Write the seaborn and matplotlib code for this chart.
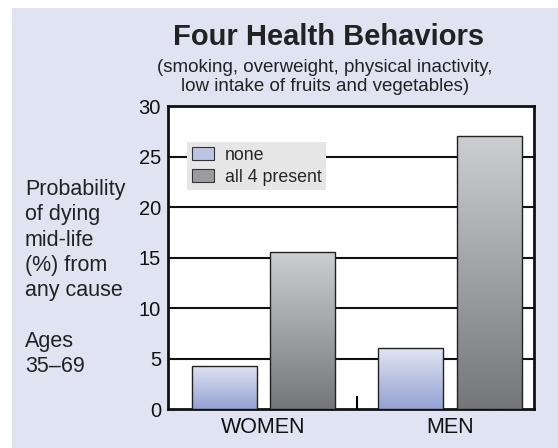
import numpy as np
import pandas as pd
import matplotlib
matplotlib.use("Agg")
import matplotlib.pyplot as plt
from matplotlib.patches import Rectangle, Patch
from matplotlib.colors import LinearSegmentedColormap
import seaborn as sns

sexes = ['WOMEN', 'MEN']
groups = ['none', 'all 4 present']
none_vals = [4.3, 6.0]
all4_vals = [15.5, 27.0]
yticks = [0, 5, 10, 15, 20, 25, 30]

df = pd.DataFrame({
    'sex': sexes * 2,
    'group': [groups[0]] * 2 + [groups[1]] * 2,
    'value': none_vals + all4_vals,
})

sns.set_style('white')
plt.rcParams['font.family'] = ['Liberation Sans', 'DejaVu Sans']

bg = '#dfe3f2'
fig = plt.figure(figsize=(5.58, 4.48), dpi=100)
fig.patch.set_facecolor('white')
fig.patches.append(Rectangle((12 / 558, 0), 1, 440 / 448, transform=fig.transFigure,
                             facecolor=bg, edgecolor='none', zorder=-10))

ax = fig.add_axes([168 / 558, 39 / 448, 366 / 558, 303 / 448])
ax.set_facecolor('white')

# gradients: light at top, dark at bottom
grad_cols = {
    'none': ('#e0e4f2', '#94a1d2'),
    'all 4 present': ('#cdced1', '#75767a'),
}
mid_cols = {'none': '#bcc4e4', 'all 4 present': '#9a9b9e'}

sns.barplot(data=df, x='sex', y='value', hue='group', order=sexes, hue_order=groups,
            palette=mid_cols, width=0.84, gap=0.17, edgecolor='#222222', linewidth=1.0,
            legend=False, ax=ax, zorder=3)

for g, cont in zip(groups, ax.containers):
    cmap = LinearSegmentedColormap.from_list(g, [grad_cols[g][1], grad_cols[g][0]])
    for p in cont:
        x0, y0 = p.get_x(), p.get_y()
        w, h = p.get_width(), p.get_height()
        im = ax.imshow(np.linspace(0, 1, 256).reshape(-1, 1), cmap=cmap, origin='lower',
                       extent=[x0, x0 + w, y0, y0 + h], aspect='auto', zorder=3,
                       interpolation='bilinear')
        im.set_clip_path(p)
        p.set_facecolor('none')
        p.set_zorder(4)

ax.set_xlim(-0.512, 1.45)
ax.set_ylim(0, 30)
ax.set_yticks(yticks)
ax.set_yticklabels([str(t) for t in yticks], fontsize=14.5, color='#111111')
ax.set_xticks([0, 1])
ax.set_xticklabels(sexes, fontsize=15.5, color='#111111')
ax.set_xticks([0.5], minor=True)
ax.tick_params(axis='x', which='both', bottom=True)
ax.tick_params(axis='x', which='major', length=0, pad=6)
ax.tick_params(axis='x', which='minor', direction='in', length=9.5, width=1.5, color='black')
ax.tick_params(axis='y', length=0, pad=5)
ax.set_xlabel('')
ax.set_ylabel('')
for t in yticks[1:-1]:
    ax.axhline(t, color='#111111', lw=1.5, zorder=1)
for s in ax.spines.values():
    s.set_color('#111111')
    s.set_linewidth(2)

handles = [Patch(facecolor=mid_cols[g], edgecolor='#333333', linewidth=0.8) for g in groups]
leg = ax.legend(handles, groups, loc='upper left', bbox_to_anchor=(0.052, 0.881),
                borderaxespad=0, frameon=True, fancybox=False, fontsize=12.8,
                handlelength=1.25, handleheight=0.75, handletextpad=0.62,
                labelspacing=0.28, borderpad=0.26)
leg.get_frame().set_facecolor('#e6e6e6')
leg.get_frame().set_edgecolor('none')
leg.get_frame().set_alpha(1)
leg.set_zorder(5)

fig.text(329 / 558, 1 - 37 / 448, 'Four Health Behaviors', ha='center', va='center',
         fontsize=21, fontweight='bold', color='#222222')
fig.text(325 / 558, 1 - 77 / 448,
         '(smoking, overweight, physical inactivity,\nlow intake of fruits and vegetables)',
         ha='center', va='center', fontsize=13.5, color='#222222', linespacing=1.1)
fig.text(25 / 558, 1 - 179 / 448,
         'Probability\nof dying\nmid-life\n(%) from\nany cause\n\nAges\n35\u201369',
         ha='left', va='top', fontsize=15.5, color='#222222', linespacing=1.27)

fig.savefig('out.png', dpi=100, facecolor=fig.get_facecolor())
